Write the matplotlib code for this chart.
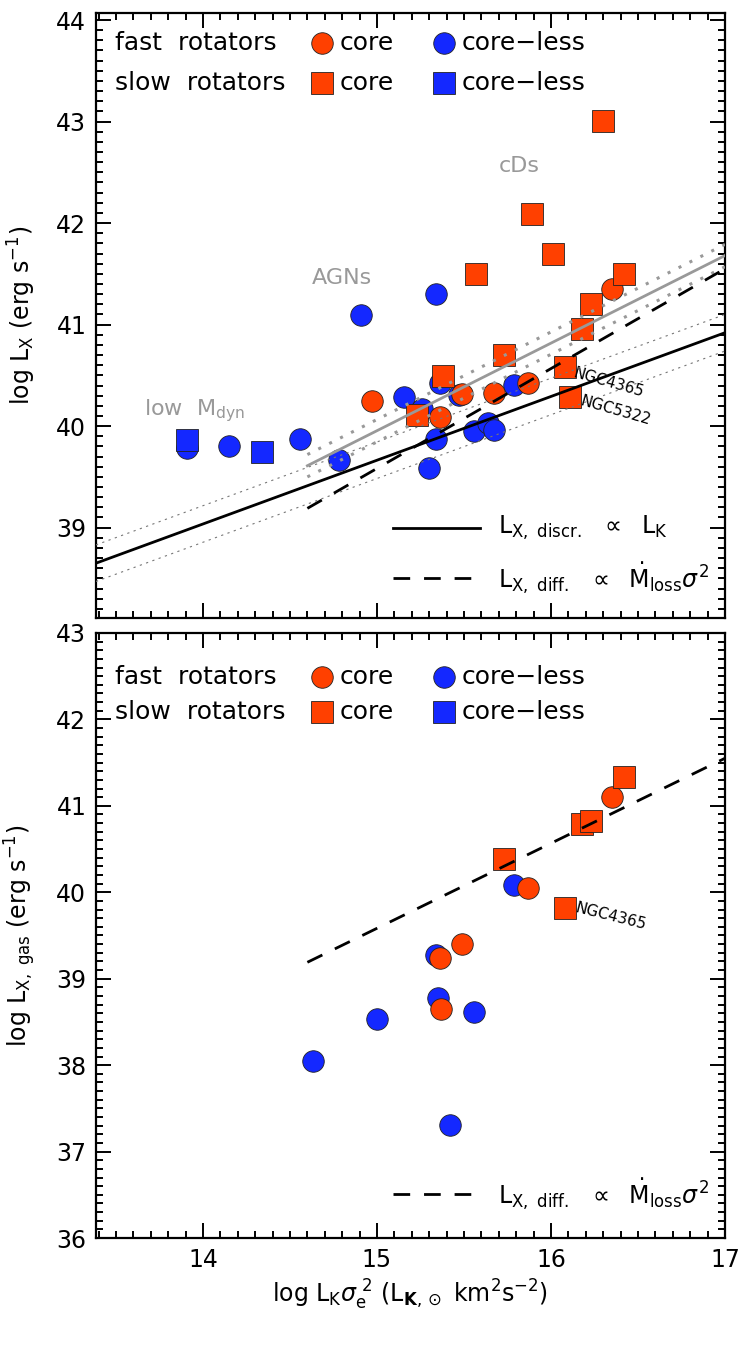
import matplotlib
matplotlib.use('Agg')
import matplotlib.pyplot as plt
from matplotlib.ticker import MultipleLocator

plt.rcParams['font.family'] = ['DejaVu Sans']
plt.rcParams['mathtext.fontset'] = 'dejavusans'

RED = '#ff4000'
BLUE = '#1428ff'
GREY = '#999999'

# ---- top panel: total X-ray luminosity ----
top_slow_core_x = [16.30, 15.89, 16.01, 15.57, 16.42, 16.23, 16.18, 15.73, 15.38, 16.08, 16.11, 15.23]
top_slow_core_y = [43.01, 42.09, 41.70, 41.50, 41.50, 41.20, 40.96, 40.70, 40.49, 40.58, 40.29, 40.11]
top_fast_core_x = [16.35, 14.97, 15.49, 15.67, 15.87, 15.36]
top_fast_core_y = [41.35, 40.25, 40.32, 40.33, 40.42, 40.09]
top_fast_less_x = [15.34, 14.91, 15.155, 15.26, 15.36, 15.47, 15.79, 14.56, 14.15, 13.91,
                   14.78, 15.34, 15.30, 15.56, 15.64, 15.67]
top_fast_less_y = [41.30, 41.09, 40.29, 40.17, 40.42, 40.31, 40.41, 39.87, 39.80, 39.78,
                   39.67, 39.87, 39.59, 39.95, 40.03, 39.96]
top_slow_less_x = [13.91, 14.34]
top_slow_less_y = [39.86, 39.75]

# model / fit lines
discr_x = [13.385, 17.0]
discr_y = [38.65, 40.92]
discr_scatter = 0.18
fit_x = [14.6, 17.0]
fit_y = [39.61, 41.68]
fit_err = 0.11
diff_x = [14.6, 17.0]
diff_y = [39.19, 41.55]

# ---- bottom panel: hot gas luminosity ----
bot_slow_core_x = [16.42, 16.18, 16.23, 15.73, 16.08]
bot_slow_core_y = [41.33, 40.79, 40.83, 40.39, 39.82]
bot_fast_core_x = [16.35, 15.87, 15.49, 15.36, 15.37]
bot_fast_core_y = [41.10, 40.05, 39.40, 39.24, 38.65]
bot_fast_less_x = [15.79, 15.34, 15.35, 15.56, 15.00, 14.63, 15.42]
bot_fast_less_y = [40.08, 39.27, 38.78, 38.61, 38.53, 38.05, 37.31]

MS = 15.5
mk = dict(linestyle='none', markersize=MS, markeredgecolor='#222222', markeredgewidth=0.6)

fig = plt.figure(figsize=(7.47, 13.47), dpi=100)
ax1 = fig.add_axes([0.1285, 0.5412, 0.842, 0.4492])
ax2 = fig.add_axes([0.1285, 0.0809, 0.842, 0.4492])


def style_axes(ax):
    ax.xaxis.set_major_locator(MultipleLocator(1))
    ax.xaxis.set_minor_locator(MultipleLocator(0.1))
    ax.yaxis.set_major_locator(MultipleLocator(1))
    ax.yaxis.set_minor_locator(MultipleLocator(0.1))
    ax.tick_params(which='both', direction='in', top=True, right=True, width=1.4, labelsize=17)
    ax.tick_params(which='major', length=11, pad=7)
    ax.tick_params(which='minor', length=5)
    for sp in ax.spines.values():
        sp.set_linewidth(1.6)


def class_legend(ax, y_fast, y_slow):
    kw = dict(transform=ax.transAxes, fontsize=18, va='center', ha='left')
    ax.text(0.030, y_fast, 'fast  rotators', **kw)
    ax.text(0.030, y_slow, 'slow  rotators', **kw)
    ax.plot([0.359], [y_fast], 'o', color=RED, transform=ax.transAxes, clip_on=False, **mk)
    ax.plot([0.553], [y_fast], 'o', color=BLUE, transform=ax.transAxes, clip_on=False, **mk)
    ax.plot([0.359], [y_slow], 's', color=RED, transform=ax.transAxes, clip_on=False, **mk)
    ax.plot([0.553], [y_slow], 's', color=BLUE, transform=ax.transAxes, clip_on=False, **mk)
    for yy in (y_fast, y_slow):
        ax.text(0.388, yy, 'core', **kw)
        ax.text(0.582, yy, 'core\u2212less', **kw)


def diff_label(ax, y):
    ax.plot([0.472, 0.610], [y, y], color='black', lw=2, dashes=(6, 5), transform=ax.transAxes)
    ax.text(0.639, y, r'$\mathrm{L_{X,\ diff.}}$  $\propto$  $\dot{\mathrm{M}}_{\mathrm{loss}}\sigma^2$',
            transform=ax.transAxes, fontsize=17, va='center', ha='left')


# ---------- top panel ----------
ax1.plot(top_fast_less_x, top_fast_less_y, 'o', color=BLUE, **mk)
ax1.plot(top_slow_less_x, top_slow_less_y, 's', color=BLUE, **mk)
ax1.plot(top_fast_core_x, top_fast_core_y, 'o', color=RED, **mk)
ax1.plot(top_slow_core_x, top_slow_core_y, 's', color=RED, **mk)

ax1.plot(discr_x, discr_y, color='black', lw=2, zorder=5)
for s in (discr_scatter, -discr_scatter):
    ax1.plot(discr_x, [v + s for v in discr_y], color='#777777', lw=0.8, dashes=(2, 4), zorder=5)
ax1.plot(fit_x, fit_y, color=GREY, lw=2, zorder=5)
for s in (fit_err, -fit_err):
    ax1.plot(fit_x, [v + s for v in fit_y], color=GREY, lw=2.2, dashes=(1, 3), zorder=5)
ax1.plot(diff_x, diff_y, color='black', lw=2, dashes=(6, 5), zorder=5)

ax1.text(15.82, 42.56, 'cDs', color=GREY, fontsize=16, ha='center', va='center')
ax1.text(14.80, 41.46, 'AGNs', color=GREY, fontsize=16, ha='center', va='center')
ax1.text(13.95, 40.15, r'low  M$_{\mathrm{dyn}}$', color=GREY, fontsize=16, ha='center', va='center')
ax1.text(16.13, 40.53, 'NGC4365', fontsize=11, rotation=-16, rotation_mode='anchor',
         ha='left', va='center')
ax1.text(16.17, 40.25, 'NGC5322', fontsize=11, rotation=-16, rotation_mode='anchor',
         ha='left', va='center')

class_legend(ax1, 0.9496, 0.884)
ax1.plot([0.472, 0.610], [0.149, 0.149], color='black', lw=2, transform=ax1.transAxes)
ax1.text(0.639, 0.149, r'$\mathrm{L_{X,\ discr.}}$  $\propto$  $\mathrm{L_K}$',
         transform=ax1.transAxes, fontsize=17, va='center', ha='left')
diff_label(ax1, 0.066)

ax1.set_xlim(13.385, 17.0)
ax1.set_ylim(38.11, 44.07)
style_axes(ax1)
ax1.tick_params(labelbottom=False)
ax1.set_ylabel(r'log L$_{\mathrm{X}}$ (erg s$^{-1}$)', fontsize=17)
ax1.yaxis.set_label_coords(-0.092, 0.5)

# ---------- bottom panel ----------
ax2.plot(bot_fast_less_x, bot_fast_less_y, 'o', color=BLUE, **mk)
ax2.plot(bot_fast_core_x, bot_fast_core_y, 'o', color=RED, **mk)
ax2.plot(bot_slow_core_x, bot_slow_core_y, 's', color=RED, **mk)
ax2.plot(diff_x, diff_y, color='black', lw=2, dashes=(6, 5), zorder=5)
ax2.text(16.14, 39.82, 'NGC4365', fontsize=11, rotation=-14, rotation_mode='anchor',
         ha='left', va='center')

class_legend(ax2, 0.927, 0.869)
diff_label(ax2, 0.073)

ax2.set_xlim(13.385, 17.0)
ax2.set_ylim(36, 43)
style_axes(ax2)
ax2.set_ylabel(r'log L$_{\mathrm{X,\ gas}}$ (erg s$^{-1}$)', fontsize=17)
ax2.yaxis.set_label_coords(-0.092, 0.5)
ax2.set_xlabel(r'log L$_{\mathrm{K}}\sigma_{\mathrm{e}}^{\ 2}$ (L$_{\mathbf{K},\odot}$ km$^2$s$^{-2}$)',
               fontsize=17)

fig.savefig('out.png', dpi=100)
